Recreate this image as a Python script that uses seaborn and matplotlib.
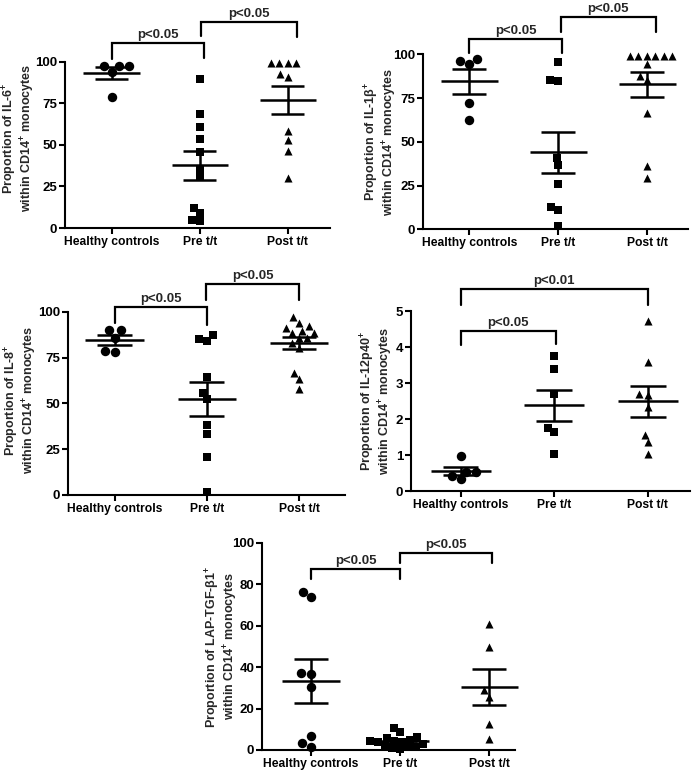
import numpy as np
import pandas as pd
import matplotlib
matplotlib.use("Agg")
import matplotlib.pyplot as plt
import seaborn as sns

# ---------------- data ----------------
groups = ["Healthy controls", "Pre t/t", "Post t/t"]

il6_healthy = [97.5, 97.5, 97.5, 94.0, 78.5]
il6_pre = [89.6, 68.4, 60.6, 53.4, 46.0, 35.6, 30.6, 11.8, 9.0, 5.0, 4.0]
il6_post = [99.5, 99.0, 99.0, 99.0, 92.4, 91.0, 58.5, 52.9, 46.3, 30.2]

il1b_healthy = [97.5, 96.2, 94.5, 72.4, 62.5]
il1b_pre = [95.8, 85.0, 85.3, 41.0, 36.8, 25.7, 12.6, 11.0, 1.9]
il1b_post = [99, 99, 99, 99, 99, 99, 94.4, 87.8, 85.3, 66.6, 36.2, 29.1]

il8_healthy = [90.0, 90.0, 85.8, 77.8, 78.4]
il8_pre = [84.9, 84.2, 87.1, 64.5, 55.8, 52.4, 38.2, 33.1, 20.7, 1.5]
il8_post = [97.0, 94.0, 92.2, 91.0, 89.6, 88.5, 88.2, 85.5, 85.5, 82.8, 80.0, 66.7, 63.3, 57.8]

il12_healthy = [0.97, 0.54, 0.54, 0.43, 0.32]
il12_pre = [3.76, 3.39, 2.69, 1.76, 1.65, 1.03]
il12_post = [4.72, 3.57, 2.69, 2.67, 2.33, 1.56, 1.35, 1.03]

tgf_healthy = [76.4, 73.8, 37.3, 36.8, 30.2, 6.8, 3.5, 1.6]
tgf_pre = [10.5, 8.5, 6.5, 6.0, 5.0, 4.5, 4.5, 4.0, 4.0, 3.0, 2.0, 1.5, 1.5, 1.0, 0.5]
tgf_post = [60.8, 49.5, 28.9, 25.7, 12.5, 5.1]

yticks_25 = [0, 25, 50, 75, 100]
yticks_1 = [0, 1, 2, 3, 4, 5]
yticks_20 = [0, 20, 40, 60, 80, 100]

ylabels = [
    "Proportion of IL-6$^{+}$\nwithin CD14$^{+}$ monocytes",
    "Proportion of IL-1β$^{+}$\nwithin CD14$^{+}$ monocytes",
    "Proportion of IL-8$^{+}$\nwithin CD14$^{+}$ monocytes",
    "Proportion of IL-12p40$^{+}$\nwithin CD14$^{+}$ monocytes",
    "Proportion of LAP-TGF-β1$^{+}$\nwithin CD14$^{+}$ monocytes",
]

# brackets: (x1, x2, top, left leg end, right leg end, text)
brackets = [
    [(0, 1.05, 111.4, 101.4, 102.0, "p<0.05"), (1.02, 2.1, 124.0, 115.4, 115.0, "p<0.05")],
    [(0, 1.04, 108.6, 100.6, 100.6, "p<0.05"), (1.03, 2.1, 121.5, 113.0, 113.0, "p<0.05")],
    [(0, 1.0, 102.7, 93.6, 93.0, "p<0.05"), (0.99, 2.0, 115.0, 106.4, 106.4, "p<0.05")],
    [(0, 1.02, 4.44, 4.06, 4.07, "p<0.05"), (0, 2.0, 5.6, 5.17, 5.17, "p<0.01")],
    [(0, 1.0, 87.1, 82.3, 82.3, "p<0.05"), (1.0, 2.03, 95.2, 90.0, 90.0, "p<0.05")],
]

# ---------------- style ----------------
sns.set_theme(style="ticks")
plt.rcParams["font.family"] = ["Liberation Sans", "DejaVu Sans"]
plt.rcParams["font.weight"] = "bold"
plt.rcParams["mathtext.fontset"] = "custom"
plt.rcParams["mathtext.rm"] = "Liberation Sans:bold"
plt.rcParams["mathtext.bf"] = "Liberation Sans:bold"
plt.rcParams["mathtext.default"] = "bf"

W, H = 694, 777
fig = plt.figure(figsize=(W / 100, H / 100), dpi=100)
fig.patch.set_facecolor("white")

# panel geometry in pixels: left, right, y0 px, ytop px, ymax, xlim, label coords
panels = [
    (65, 330, 228.0, 61.7, 100, (-0.53, 2.48), (-0.105, 0.54)),
    (423, 688, 229.3, 54.3, 100, (-0.52, 2.46), (-0.09, 0.5)),
    (68, 345, 495.0, 311.7, 100, (-0.51, 2.5), (-0.105, 0.52)),
    (411, 690, 491.0, 311.0, 5, (-0.53, 2.45), (-0.057, 0.5)),
    (262, 515, 750.0, 542.7, 100, (-0.55, 2.29), (-0.086, 0.5)),
]
datasets = [
    (il6_healthy, il6_pre, il6_post, yticks_25),
    (il1b_healthy, il1b_pre, il1b_post, yticks_25),
    (il8_healthy, il8_pre, il8_post, yticks_25),
    (il12_healthy, il12_pre, il12_post, yticks_1),
    (tgf_healthy, tgf_pre, tgf_post, yticks_20),
]
markers = ["o", "s", "^"]
msizes = [6.8, 5.4, 5.8]

for k, (geom, data) in enumerate(zip(panels, datasets)):
    left, right, y0, ytop, ymax, xlim, lab = geom
    healthy, pre, post, yt = data
    ax = fig.add_axes([left / W, 1 - y0 / H, (right - left) / W, (y0 - ytop) / H])
    ax.set_facecolor("white")
    df = pd.DataFrame({
        "group": [groups[0]] * len(healthy) + [groups[1]] * len(pre) + [groups[2]] * len(post),
        "value": list(healthy) + list(pre) + list(post),
    })
    ax.set_xlim(*xlim)
    ax.set_ylim(0, ymax)
    for g, m, s in zip(groups, markers, msizes):
        sns.swarmplot(data=df[df["group"] == g], x="group", y="value", order=groups,
                      marker=m, color="black", size=s, linewidth=0, ax=ax)
    for c in ax.collections:
        c.set_clip_on(False)
    # mean +/- SEM
    for i, g in enumerate(groups):
        v = df.loc[df["group"] == g, "value"].to_numpy()
        mval = v.mean()
        se = v.std(ddof=1) / np.sqrt(len(v))
        ax.hlines(mval, i - 0.32, i + 0.32, color="black", lw=1.8, clip_on=False, zorder=5)
        ax.hlines([mval - se, mval + se], i - 0.19, i + 0.19, color="black", lw=1.8, clip_on=False, zorder=5)
        ax.vlines(i, mval - se, mval + se, color="black", lw=1.8, clip_on=False, zorder=5)
    # brackets
    for (x1, x2, top, b1, b2, txt) in brackets[k]:
        ax.plot([x1, x1, x2, x2], [b1, top, top, b2], color="black", lw=1.6,
                clip_on=False, solid_joinstyle="miter")
        ax.annotate(txt, xy=((x1 + x2) / 2, top), xytext=(0, 1.5), textcoords="offset points",
                    ha="center", va="bottom", fontsize=9.5, fontweight="bold",
                    annotation_clip=False)
    ax.set_xlim(*xlim)
    ax.set_ylim(0, ymax)
    ax.set_yticks(yt)
    ax.set_yticklabels([str(t) for t in yt], fontsize=9.5, fontweight="bold")
    ax.set_xticks([0, 1, 2])
    ax.set_xticklabels(groups, fontsize=8.7, fontweight="bold")
    ax.set_xlabel("")
    ax.set_ylabel(ylabels[k], fontsize=9, fontweight="bold", linespacing=1.0)
    ax.yaxis.set_label_coords(*lab)
    for sp in ["top", "right"]:
        ax.spines[sp].set_visible(False)
    for sp in ["left", "bottom"]:
        ax.spines[sp].set_linewidth(1.5)
        ax.spines[sp].set_color("black")
    ax.tick_params(axis="both", direction="out", length=4, width=1.5, color="black",
                   labelcolor="black", pad=1.5)
    ax.grid(False)

fig.savefig("out.png", dpi=100, facecolor="white")
